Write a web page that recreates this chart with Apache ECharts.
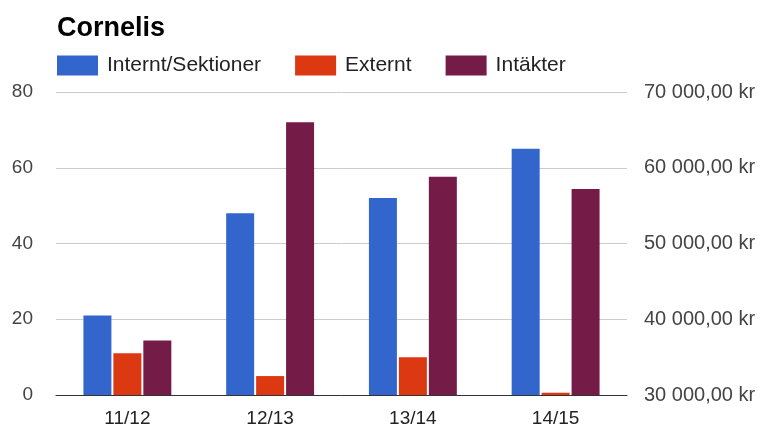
<!DOCTYPE html>
<html>
<head>
<meta charset="utf-8">
<script src="https://cdn.jsdelivr.net/npm/echarts@6/dist/echarts.min.js"></script>
<style>html,body{margin:0;padding:0;background:#fff}#c{width:771px;height:430px}</style>
</head>
<body>
<div id="c"></div>
<script>
const categories = ['11/12', '12/13', '13/14', '14/15'];
const interntSektioner = [21, 48, 52, 65];
const externt = [11, 5, 10, 0.6];
const intakter = [37200, 66000, 58800, 57200];
const leftTicks = { min: 0, max: 80, interval: 20 };
const rightTicks = { min: 30000, max: 70000, interval: 10000 };

const font = 'Liberation Sans, Arial, sans-serif';
function kr(v) {
  const s = Math.round(v).toString().replace(/\B(?=(\d{3})+(?!\d))/g, ' ');
  return s + ',00 kr';
}
const chart = echarts.init(document.getElementById('c'), null, { renderer: 'canvas' });
chart.setOption({
  animation: false,
  title: {
    text: 'Cornelis', left: 52, top: 10,
    textStyle: { fontFamily: font, fontSize: 27, fontWeight: 'bold', color: '#000' }
  },
  legend: {
    left: 52, top: 50, itemWidth: 41, itemHeight: 20, itemGap: 34,
    icon: 'rect',
    textStyle: { fontFamily: font, fontSize: 21, color: '#222', padding: [0, 0, 0, 4] },
    data: ['Internt/Sektioner', 'Externt', 'Intäkter']
  },
  grid: { left: 56, right: 144, top: 92, bottom: 35 },
  xAxis: {
    type: 'category', data: categories,
    axisLine: { lineStyle: { color: '#333', width: 1 } },
    axisTick: { show: false },
    axisLabel: { fontFamily: font, fontSize: 19, color: '#222', margin: 14 }
  },
  yAxis: [
    {
      type: 'value', min: leftTicks.min, max: leftTicks.max, interval: leftTicks.interval,
      axisLine: { show: false }, axisTick: { show: false },
      splitLine: { lineStyle: { color: '#cccccc' } },
      axisLabel: { fontFamily: font, fontSize: 19, color: '#444', margin: 23 }
    },
    {
      type: 'value', min: rightTicks.min, max: rightTicks.max, interval: rightTicks.interval,
      position: 'right',
      axisLine: { show: false }, axisTick: { show: false },
      splitLine: { show: false },
      axisLabel: { fontFamily: font, fontSize: 20, color: '#444', margin: 17, formatter: kr }
    }
  ],
  series: [
    { name: 'Internt/Sektioner', type: 'bar', data: interntSektioner, yAxisIndex: 0,
      barWidth: 28, barGap: '7%', itemStyle: { color: '#3366cc' } },
    { name: 'Externt', type: 'bar', data: externt, yAxisIndex: 0,
      barWidth: 28, barGap: '7%', itemStyle: { color: '#dc3912' } },
    { name: 'Intäkter', type: 'bar', data: intakter, yAxisIndex: 1,
      barWidth: 28, barGap: '7%', itemStyle: { color: '#741b47' } }
  ]
});
</script>
</body>
</html>
